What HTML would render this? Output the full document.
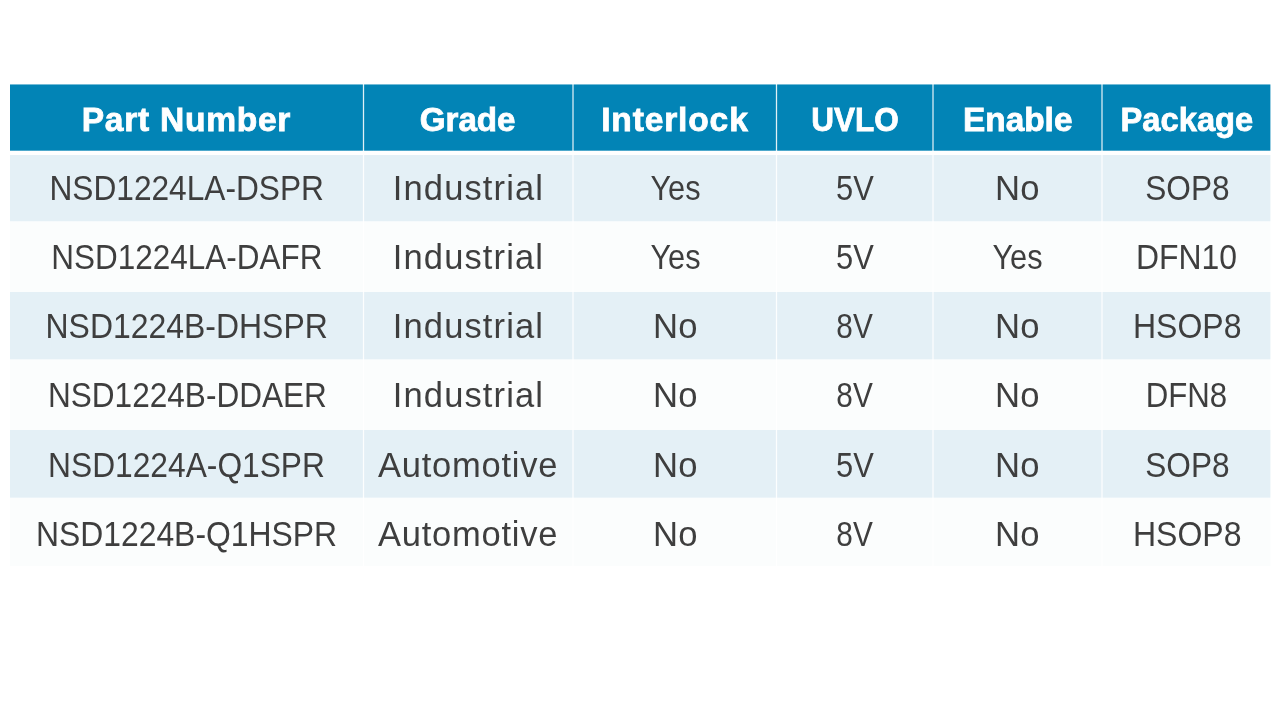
<!DOCTYPE html>
<html><head><meta charset="utf-8"><title>Table</title>
<style>
html,body{margin:0;padding:0;background:#fff;}
body{width:1280px;height:720px;position:relative;overflow:hidden;font-family:"Liberation Sans",sans-serif;}
.b{position:absolute;}
.h{top:84px;height:67px;background:linear-gradient(to bottom,rgba(2,132,182,.55) 0,rgba(2,132,182,.55) 1px,#0284b6 1px,#0284b6 66px,rgba(2,132,182,.7) 66px,rgba(2,132,182,.7) 67px);}
.o{background:#e4f0f6;}
.e{background:#fbfdfd;}
.t{will-change:transform;position:absolute;white-space:nowrap;text-align:center;line-height:40px;height:40px;color:#3e3e3e;font-size:34.5px;}
.t span{display:inline-block;transform-origin:50% 50%;}
.th{color:#fff;font-weight:bold;-webkit-text-stroke:0.8px #fff;font-size:33.6px;}
.v{position:absolute;top:84px;height:482px;}
</style></head><body>

<div class="b h" style="left:10px;width:1261px"></div>
<div class="b" style="left:10px;width:1261px;top:155px;height:67px;background:linear-gradient(to bottom,#e4f0f6 0,#e4f0f6 66px,rgba(228,240,246,0.35) 66px)"></div>
<div class="b" style="left:10px;width:1261px;top:292px;height:68px;background:linear-gradient(to bottom,#e4f0f6 0,#e4f0f6 67px,rgba(228,240,246,0.40) 67px)"></div>
<div class="b" style="left:10px;width:1261px;top:430px;height:68px;background:linear-gradient(to bottom,#e4f0f6 0,#e4f0f6 67px,rgba(228,240,246,0.70) 67px)"></div>
<div class="b e" style="left:10px;width:1261px;top:222.00px;height:70.00px"></div>
<div class="b e" style="left:10px;width:1261px;top:360.00px;height:70.00px"></div>
<div class="b e" style="left:10px;width:1261px;top:498.00px;height:68.00px"></div>
<div class="v" style="left:1270px;width:1px;background:rgba(255,255,255,.6)"></div>
<div class="v" style="left:363px;width:1px;background:rgba(255,255,255,0.88)"></div>
<div class="v" style="left:362px;width:1px;background:rgba(255,255,255,0.12)"></div>
<div class="v" style="left:364px;width:1px;background:rgba(255,255,255,0.12)"></div>
<div class="v" style="left:572px;width:2px;background:rgba(255,255,255,0.55)"></div>
<div class="v" style="left:776px;width:1px;background:rgba(255,255,255,0.88)"></div>
<div class="v" style="left:775px;width:1px;background:rgba(255,255,255,0.12)"></div>
<div class="v" style="left:777px;width:1px;background:rgba(255,255,255,0.12)"></div>
<div class="v" style="left:932px;width:2px;background:rgba(255,255,255,0.55)"></div>
<div class="v" style="left:1101px;width:2px;background:rgba(255,255,255,0.55)"></div>
<div class="t th" id="h0" style="left:10.00px;width:353.50px;top:99.00px"><span style="transform:translate(-0.30px,0.60px) scaleX(1.0000);letter-spacing:0.72px">Part Number</span></div>
<div class="t th" id="h1" style="left:363.50px;width:209.00px;top:99.00px"><span style="transform:translate(-0.91px,0.60px) scaleX(0.9881)">Grade</span></div>
<div class="t th" id="h2" style="left:572.50px;width:203.75px;top:99.00px"><span style="transform:translate(0.02px,0.60px) scaleX(1.0000);letter-spacing:0.84px">Interlock</span></div>
<div class="t th" id="h3" style="left:776.25px;width:156.75px;top:99.00px"><span style="transform:translate(0.46px,0.60px) scaleX(0.9381)">UVLO</span></div>
<div class="t th" id="h4" style="left:933.00px;width:168.75px;top:99.00px"><span style="transform:translate(0.69px,0.60px) scaleX(0.9939)">Enable</span></div>
<div class="t th" id="h5" style="left:1101.75px;width:168.75px;top:99.00px"><span style="transform:translate(0.78px,0.60px) scaleX(0.9740)">Package</span></div>
<div class="t td" id="r0c0" style="left:10.00px;width:353.50px;top:168.00px"><span style="transform:translate(0.13px,0.00px) scaleX(0.9180)">NSD1224LA-DSPR</span></div>
<div class="t td" id="r0c1" style="left:363.50px;width:209.00px;top:168.00px"><span style="transform:translate(-0.03px,0.00px) scaleX(1.0000);letter-spacing:1.12px">Industrial</span></div>
<div class="t td" id="r0c2" style="left:572.50px;width:203.75px;top:168.00px"><span style="transform:translate(0.31px,0.00px) scaleX(0.8905)">Yes</span></div>
<div class="t td" id="r0c3" style="left:776.25px;width:156.75px;top:168.00px"><span style="transform:translate(0.76px,0.00px) scaleX(0.8940)">5V</span></div>
<div class="t td" id="r0c4" style="left:933.00px;width:168.75px;top:168.00px"><span style="transform:translate(0.21px,0.00px) scaleX(1.0039)">No</span></div>
<div class="t td" id="r0c5" style="left:1101.75px;width:168.75px;top:168.00px"><span style="transform:translate(1.36px,0.00px) scaleX(0.9156)">SOP8</span></div>
<div class="t td" id="r1c0" style="left:10.00px;width:353.50px;top:237.00px"><span style="transform:translate(0.28px,0.15px) scaleX(0.9121)">NSD1224LA-DAFR</span></div>
<div class="t td" id="r1c1" style="left:363.50px;width:209.00px;top:237.00px"><span style="transform:translate(-0.03px,0.15px) scaleX(1.0000);letter-spacing:1.12px">Industrial</span></div>
<div class="t td" id="r1c2" style="left:572.50px;width:203.75px;top:237.00px"><span style="transform:translate(0.31px,0.15px) scaleX(0.8905)">Yes</span></div>
<div class="t td" id="r1c3" style="left:776.25px;width:156.75px;top:237.00px"><span style="transform:translate(0.76px,0.15px) scaleX(0.8940)">5V</span></div>
<div class="t td" id="r1c4" style="left:933.00px;width:168.75px;top:237.00px"><span style="transform:translate(0.31px,0.15px) scaleX(0.8905)">Yes</span></div>
<div class="t td" id="r1c5" style="left:1101.75px;width:168.75px;top:237.00px"><span style="transform:translate(-0.12px,0.15px) scaleX(0.9245)">DFN10</span></div>
<div class="t td" id="r2c0" style="left:10.00px;width:353.50px;top:306.00px"><span style="transform:translate(0.21px,0.30px) scaleX(0.9257)">NSD1224B-DHSPR</span></div>
<div class="t td" id="r2c1" style="left:363.50px;width:209.00px;top:306.00px"><span style="transform:translate(-0.03px,0.30px) scaleX(1.0000);letter-spacing:1.12px">Industrial</span></div>
<div class="t td" id="r2c2" style="left:572.50px;width:203.75px;top:306.00px"><span style="transform:translate(0.21px,0.30px) scaleX(1.0039)">No</span></div>
<div class="t td" id="r2c3" style="left:776.25px;width:156.75px;top:306.00px"><span style="transform:translate(0.44px,0.30px) scaleX(0.8634)">8V</span></div>
<div class="t td" id="r2c4" style="left:933.00px;width:168.75px;top:306.00px"><span style="transform:translate(0.21px,0.30px) scaleX(1.0039)">No</span></div>
<div class="t td" id="r2c5" style="left:1101.75px;width:168.75px;top:306.00px"><span style="transform:translate(0.77px,0.30px) scaleX(0.9278)">HSOP8</span></div>
<div class="t td" id="r3c0" style="left:10.00px;width:353.50px;top:375.00px"><span style="transform:translate(0.99px,0.45px) scaleX(0.9152)">NSD1224B-DDAER</span></div>
<div class="t td" id="r3c1" style="left:363.50px;width:209.00px;top:375.00px"><span style="transform:translate(-0.03px,0.45px) scaleX(1.0000);letter-spacing:1.12px">Industrial</span></div>
<div class="t td" id="r3c2" style="left:572.50px;width:203.75px;top:375.00px"><span style="transform:translate(0.21px,0.45px) scaleX(1.0039)">No</span></div>
<div class="t td" id="r3c3" style="left:776.25px;width:156.75px;top:375.00px"><span style="transform:translate(0.44px,0.45px) scaleX(0.8634)">8V</span></div>
<div class="t td" id="r3c4" style="left:933.00px;width:168.75px;top:375.00px"><span style="transform:translate(0.21px,0.45px) scaleX(1.0039)">No</span></div>
<div class="t td" id="r3c5" style="left:1101.75px;width:168.75px;top:375.00px"><span style="transform:translate(0.38px,0.45px) scaleX(0.9040)">DFN8</span></div>
<div class="t td" id="r4c0" style="left:10.00px;width:353.50px;top:445.00px"><span style="transform:translate(-0.01px,-0.40px) scaleX(0.9195)">NSD1224A-Q1SPR</span></div>
<div class="t td" id="r4c1" style="left:363.50px;width:209.00px;top:445.00px"><span style="transform:translate(-0.40px,-0.40px) scaleX(1.0000);letter-spacing:0.75px">Automotive</span></div>
<div class="t td" id="r4c2" style="left:572.50px;width:203.75px;top:445.00px"><span style="transform:translate(0.21px,-0.40px) scaleX(1.0039)">No</span></div>
<div class="t td" id="r4c3" style="left:776.25px;width:156.75px;top:445.00px"><span style="transform:translate(0.76px,-0.40px) scaleX(0.8940)">5V</span></div>
<div class="t td" id="r4c4" style="left:933.00px;width:168.75px;top:445.00px"><span style="transform:translate(0.21px,-0.40px) scaleX(1.0039)">No</span></div>
<div class="t td" id="r4c5" style="left:1101.75px;width:168.75px;top:445.00px"><span style="transform:translate(1.36px,-0.40px) scaleX(0.9156)">SOP8</span></div>
<div class="t td" id="r5c0" style="left:10.00px;width:353.50px;top:514.00px"><span style="transform:translate(-0.49px,-0.25px) scaleX(0.9237)">NSD1224B-Q1HSPR</span></div>
<div class="t td" id="r5c1" style="left:363.50px;width:209.00px;top:514.00px"><span style="transform:translate(-0.40px,-0.25px) scaleX(1.0000);letter-spacing:0.75px">Automotive</span></div>
<div class="t td" id="r5c2" style="left:572.50px;width:203.75px;top:514.00px"><span style="transform:translate(0.21px,-0.25px) scaleX(1.0039)">No</span></div>
<div class="t td" id="r5c3" style="left:776.25px;width:156.75px;top:514.00px"><span style="transform:translate(0.44px,-0.25px) scaleX(0.8634)">8V</span></div>
<div class="t td" id="r5c4" style="left:933.00px;width:168.75px;top:514.00px"><span style="transform:translate(0.21px,-0.25px) scaleX(1.0039)">No</span></div>
<div class="t td" id="r5c5" style="left:1101.75px;width:168.75px;top:514.00px"><span style="transform:translate(0.77px,-0.25px) scaleX(0.9278)">HSOP8</span></div>
</body></html>
